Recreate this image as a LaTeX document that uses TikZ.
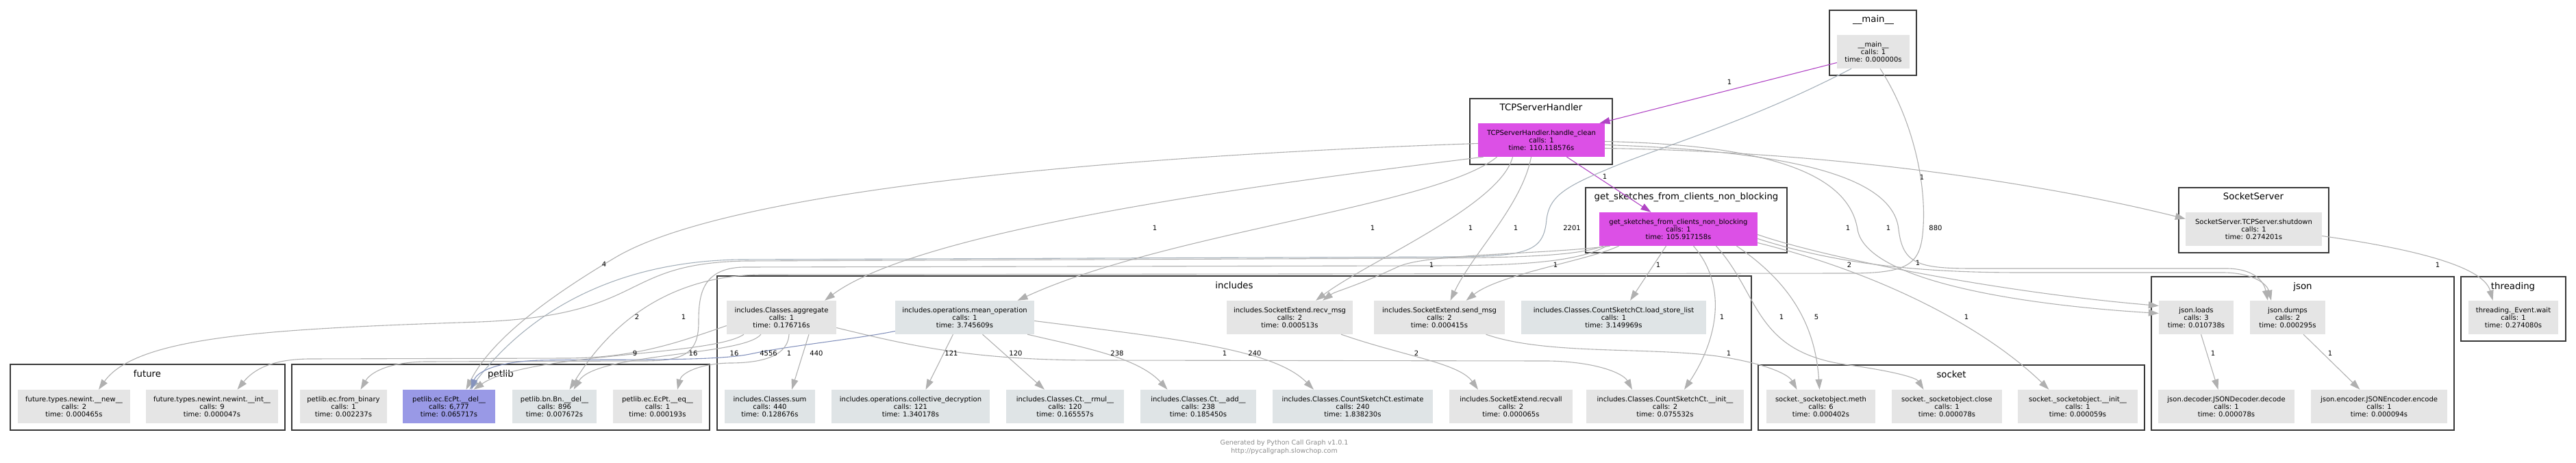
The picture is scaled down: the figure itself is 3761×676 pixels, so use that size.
\documentclass[tikz,border=0pt]{standalone}
\usepackage{fontspec}
\setmainfont{DejaVu Sans}
\usetikzlibrary{arrows.meta}

\definecolor{nodegray}{HTML}{E5E5E5}
\definecolor{nodeblue}{HTML}{DFE4E6}
\definecolor{nodehot}{HTML}{DC50E6}
\definecolor{nodedel}{HTML}{9999E6}
\definecolor{edgegray}{HTML}{B0B0B0}
\definecolor{edgehot}{HTML}{B044C4}
\definecolor{edgewarm}{HTML}{A5B0BA}
\definecolor{edgeblue}{HTML}{8593BD}
\definecolor{clusterline}{HTML}{383838}
\definecolor{footgray}{HTML}{8A8A8A}

\newcommand{\callinfo}[3]{#1\\calls: #2\\time: #3}

\begin{document}
\begin{tikzpicture}[x=1pt,y=-1pt,
  fn/.style={fill=nodegray, minimum height=49pt, inner sep=0pt, align=center,
    font=\fontsize{10}{11}\selectfont},
  cluster/.style={draw=clusterline, line width=2.4pt},
  cltitle/.style={anchor=base, font=\fontsize{13.3}{15}\selectfont},
  call/.style={draw=edgegray, line width=1.1pt, -{Triangle[length=15pt,width=10pt]}},
  hotcall/.style={call, draw=edgehot},
  elbl/.style={inner sep=0pt, font=\fontsize{10}{11}\selectfont},
]
\useasboundingbox (0,0) rectangle (3761,676);

% clusters
\draw[cluster] (2671,15) rectangle (2798,110);
\node[cltitle] (c-main) at (2735,33) {\_\_main\_\_};
\draw[cluster] (2146,144) rectangle (2354,240);
\node[cltitle] (c-tcp) at (2250,162) {TCPServerHandler};
\draw[cluster] (2315,274) rectangle (2609,369);
\node[cltitle] (c-get) at (2462,292) {get\_sketches\_from\_clients\_non\_blocking};
\draw[cluster] (3181,274) rectangle (3400,369);
\node[cltitle] (c-srv) at (3290,292) {SocketServer};
\draw[cluster] (3141,404) rectangle (3583,628);
\node[cltitle] (c-json) at (3362,422) {json};
\draw[cluster] (3593,404) rectangle (3746,498);
\node[cltitle] (c-thr) at (3669,422) {threading};
\draw[cluster] (2567,533) rectangle (3131,628);
\node[cltitle] (c-sock) at (2849,551) {socket};
\draw[cluster] (1047,403) rectangle (2557,628);
\node[cltitle] (c-inc) at (1802,421) {includes};
\draw[cluster] (426,532) rectangle (1036,628);
\node[cltitle] (c-pet) at (731,550) {petlib};
\draw[cluster] (15,532) rectangle (416,628);
\node[cltitle] (c-fut) at (215,550) {future};

% functions
\node[fn, minimum width=106pt] (M) at (2735,75.5) {\callinfo{\_\_main\_\_}{1}{0.000000s}};
\node[fn, fill=nodehot, minimum width=185pt] (T) at (2250.5,204.5) {\callinfo{TCPServerHandler.handle\_clean}{1}{110.118576s}};
\node[fn, fill=nodehot, minimum width=231pt] (G) at (2450.5,334.5) {\callinfo{get\_sketches\_from\_clients\_non\_blocking}{1}{105.917158s}};
\node[fn, minimum width=199pt] (S) at (3290.5,334.5) {\callinfo{SocketServer.TCPServer.shutdown}{1}{0.274201s}};
\node[fn, minimum width=131pt] (TH) at (3669.5,463.5) {\callinfo{threading.\_Event.wait}{1}{0.274080s}};
\node[fn, minimum width=109pt] (JL) at (3206.5,463.5) {\callinfo{json.loads}{3}{0.010738s}};
\node[fn, minimum width=110pt] (JD) at (3340,463.5) {\callinfo{json.dumps}{2}{0.000295s}};
\node[fn, minimum width=199pt] (JDec) at (3250.5,593.5) {\callinfo{json.decoder.JSONDecoder.decode}{1}{0.000078s}};
\node[fn, minimum width=199pt] (JEnc) at (3473.5,593.5) {\callinfo{json.encoder.JSONEncoder.encode}{1}{0.000094s}};
\node[fn, minimum width=159pt] (SK1) at (2658.5,593.5) {\callinfo{socket.\_socketobject.meth}{6}{0.000402s}};
\node[fn, minimum width=161pt] (SK2) at (2842.5,593.5) {\callinfo{socket.\_socketobject.close}{1}{0.000078s}};
\node[fn, minimum width=175pt] (SK3) at (3033.5,593.5) {\callinfo{socket.\_socketobject.\_\_init\_\_}{1}{0.000059s}};
\node[fn, minimum width=160pt] (Agg) at (1141,463.5) {\callinfo{includes.Classes.aggregate}{1}{0.176716s}};
\node[fn, fill=nodeblue, minimum width=203pt] (MO) at (1408.5,463.5) {\callinfo{includes.operations.mean\_operation}{1}{3.745609s}};
\node[fn, minimum width=184pt] (RM) at (1883,463.5) {\callinfo{includes.SocketExtend.recv\_msg}{2}{0.000513s}};
\node[fn, minimum width=191pt] (SM) at (2101.5,463.5) {\callinfo{includes.SocketExtend.send\_msg}{2}{0.000415s}};
\node[fn, fill=nodeblue, minimum width=270pt] (LSL) at (2356,463.5) {\callinfo{includes.Classes.CountSketchCt.load\_store\_list}{1}{3.149969s}};
\node[fn, fill=nodeblue, minimum width=132pt] (Sum) at (1124,593.5) {\callinfo{includes.Classes.sum}{440}{0.128676s}};
\node[fn, fill=nodeblue, minimum width=231pt] (CD) at (1329.5,593.5) {\callinfo{includes.operations.collective\_decryption}{121}{1.340178s}};
\node[fn, fill=nodeblue, minimum width=172pt] (RMUL) at (1555,593.5) {\callinfo{includes.Classes.Ct.\_\_rmul\_\_}{120}{0.165557s}};
\node[fn, fill=nodeblue, minimum width=169pt] (ADD) at (1749.5,593.5) {\callinfo{includes.Classes.Ct.\_\_add\_\_}{238}{0.185450s}};
\node[fn, fill=nodeblue, minimum width=234pt] (EST) at (1975,593.5) {\callinfo{includes.Classes.CountSketchCt.estimate}{240}{1.838230s}};
\node[fn, minimum width=180pt] (RVA) at (2206,593.5) {\callinfo{includes.SocketExtend.recvall}{2}{0.000065s}};
\node[fn, minimum width=230pt] (CSI) at (2431,593.5) {\callinfo{includes.Classes.CountSketchCt.\_\_init\_\_}{2}{0.075532s}};
\node[fn, minimum width=127pt] (FB) at (501.5,593.5) {\callinfo{petlib.ec.from\_binary}{1}{0.002237s}};
\node[fn, fill=nodedel, minimum width=135pt] (ED) at (655.5,593.5) {\callinfo{petlib.ec.EcPt.\_\_del\_\_}{6,777}{0.065717s}};
\node[fn, fill=nodeblue, minimum width=123pt] (BN) at (809.5,593.5) {\callinfo{petlib.bn.Bn.\_\_del\_\_}{896}{0.007672s}};
\node[fn, minimum width=130pt] (EQ) at (960,593.5) {\callinfo{petlib.ec.EcPt.\_\_eq\_\_}{1}{0.000193s}};
\node[fn, minimum width=164pt] (NEW) at (108,593.5) {\callinfo{future.types.newint.\_\_new\_\_}{2}{0.000465s}};
\node[fn, minimum width=193pt] (INT) at (309.5,593.5) {\callinfo{future.types.newint.newint.\_\_int\_\_}{9}{0.000047s}};

% calls
\draw[hotcall] ([yshift=-16pt]M.west) -- ([xshift=85pt]T.north);
\draw[hotcall] ([xshift=37pt]T.south) -- ([xshift=-40pt]G.north);
\draw[call, draw=edgewarm] ([xshift=-32pt]M.south) .. controls (2550,180) and (2420,215) .. (2340,250)
  .. controls (2280,275) and (2262,290) .. (2258,320) .. controls (2254,368) and (2230,374) .. (2120,375)
  -- (1080,379) .. controls (880,382) and (760,470) .. ([xshift=30pt]ED.north);
\draw[call] ([xshift=10pt]M.south) .. controls (2790,170) and (2812,260) .. (2808,330)
  .. controls (2805,385) and (2790,399) .. (2700,399) -- (1110,401) .. controls (960,403) and (880,490) .. ([xshift=22pt]BN.north);
\draw[call] ([yshift=-12pt]T.east) .. controls (2700,222) and (3000,272) .. ([yshift=15pt]S.west);
\draw[call] ([yshift=-2pt]T.east) .. controls (2600,212) and (2700,260) .. (2712,335)
  .. controls (2725,410) and (2950,445) .. ([yshift=6pt]JL.west);
\draw[call] ([yshift=-7pt]T.east) .. controls (2660,222) and (2765,270) .. (2772,335)
  .. controls (2778,385) and (2800,392) .. (2880,392) -- (3250,392) .. controls (3290,392) and (3305,410) .. ([xshift=-29pt]JD.north);
\draw[call] ([yshift=-8pt]G.east) .. controls (2650,372) and (2900,425) .. ([yshift=17pt]JL.west);
\draw[call] ([yshift=-14pt]G.east) .. controls (2680,385) and (2800,398) .. (2950,398)
  -- (3245,398) .. controls (3290,398) and (3310,415) .. ([xshift=-24pt]JD.north);
\draw[call] ([yshift=-10pt]S.east) .. controls (3500,360) and (3625,385) .. ([xshift=-30pt]TH.north);
\draw[call] ([xshift=7pt]JL.south) -- ([xshift=-12pt]JDec.north);
\draw[call] ([xshift=23pt]JD.south) -- ([xshift=-28pt]JEnc.north);
\draw[call] ([xshift=-87pt]G.south) .. controls (2320,380) and (2190,400) .. ([xshift=39pt]SM.north);
\draw[call] ([xshift=-15pt]T.south) .. controls (2222,300) and (2150,370) .. ([xshift=16pt]SM.north);
\draw[call] ([xshift=-42pt]T.south) .. controls (2190,300) and (2000,380) .. ([xshift=38pt]RM.north);
\draw[call] ([xshift=-100pt]G.south) .. controls (2250,372) and (2080,370) .. (2040,390)
  .. controls (1975,420) and (1950,425) .. ([xshift=48pt]RM.north);
\draw[call] ([xshift=-18pt]G.south) -- ([xshift=24pt]LSL.north);
\draw[call] ([xshift=-85pt]T.south) .. controls (1900,262) and (1350,330) .. ([xshift=63pt]Agg.north);
\draw[call] ([xshift=-65pt]T.south) .. controls (2100,300) and (1700,340) .. ([xshift=77pt]MO.north);
\draw[call] ([yshift=-5pt]T.west) .. controls (1700,225) and (1080,270) .. (900,375)
  .. controls (790,440) and (715,500) .. ([xshift=25pt]ED.north);
\draw[call] ([xshift=-110pt]G.south) .. controls (2300,375) and (2200,376) .. (2080,377) -- (1090,381)
  .. controls (900,384) and (950,460) .. (700,470) .. controls (400,480) and (200,490) .. ([xshift=36pt]NEW.north);
\draw[call] ([xshift=-105pt]G.south) .. controls (2300,385) and (2200,388) .. (2080,388) -- (1085,390)
  .. controls (1025,392) and (1020,430) .. (1020,470) .. controls (1020,515) and (1000,527) .. (940,527)
  -- (620,528) .. controls (565,529) and (540,545) .. ([xshift=25pt]FB.north);
\draw[call, draw=edgeblue] ([yshift=-20pt]MO.west) .. controls (1250,495) and (1150,505) .. (1095,517)
  .. controls (1040,528) and (900,524) .. (790,526) .. controls (720,528) and (695,545) .. ([xshift=33pt]ED.north);
\draw[call] ([xshift=-55pt]Agg.south) .. controls (1040,520) and (770,515) .. ([xshift=36pt]ED.north);
\draw[call] ([xshift=-30pt]Agg.south) .. controls (1085,520) and (870,515) .. ([xshift=28pt]BN.north);
\draw[call] ([yshift=-12pt]Agg.west) .. controls (990,500) and (930,522) .. (830,523) -- (450,524)
  .. controls (395,525) and (370,540) .. ([xshift=37pt]INT.north);
\draw[call] ([xshift=11pt]Agg.south) .. controls (1150,525) and (1100,530) .. (1065,530)
  .. controls (1020,531) and (995,545) .. ([xshift=29pt]EQ.north);
\draw[call] ([xshift=40pt]Agg.south) -- ([xshift=32pt]Sum.north);
\draw[call] ([yshift=-15pt]Agg.east) .. controls (1330,505) and (1420,526) .. (1600,526) -- (2260,527)
  .. controls (2330,528) and (2370,545) .. ([xshift=-48pt]CSI.north);
\draw[call] ([xshift=-17pt]MO.south) -- ([xshift=22pt]CD.north);
\draw[call] ([xshift=26pt]MO.south) -- ([xshift=-30pt]RMUL.north);
\draw[call] ([xshift=-10pt]MO.south east) .. controls (1570,505) and (1660,520) .. ([xshift=-45pt]ADD.north);
\draw[call] ([yshift=-5pt]MO.east) .. controls (1720,495) and (1860,510) .. ([xshift=-57pt]EST.north);
\draw[call] ([xshift=75pt]RM.south) .. controls (2050,520) and (2130,530) .. ([xshift=-48pt]RVA.north);
\draw[call] ([xshift=68pt]SM.south) .. controls (2260,520) and (2420,505) .. (2520,522)
  .. controls (2585,533) and (2612,548) .. ([xshift=-35pt]SK1.north);
\draw[call] ([xshift=85pt]G.south) .. controls (2610,410) and (2650,470) .. ([xshift=-2pt]SK1.north);
\draw[call] ([xshift=22pt]G.south) .. controls (2525,420) and (2505,500) .. ([xshift=28pt]CSI.north);
\draw[call] ([xshift=55pt]G.south) .. controls (2570,430) and (2560,515) .. (2700,533)
  .. controls (2770,543) and (2798,552) .. ([xshift=-34pt]SK2.north);
\draw[call] ([yshift=-20pt]G.east) .. controls (2750,400) and (2900,480) .. ([xshift=-42pt]SK3.north);

% call counts
\node[elbl] (l-mt) at (2525,120) {1};
\node[elbl] (l-tg) at (2343,258) {1};
\node[elbl] (l-med) at (2295,333) {2201};
\node[elbl] (l-mbn) at (2826,333) {880};
\node[elbl] (l-ts) at (2806,259) {1};
\node[elbl] (l-tjl) at (2698,333) {1};
\node[elbl] (l-tjd) at (2757,333) {1};
\node[elbl] (l-gjl) at (2700,387) {2};
\node[elbl] (l-gjd) at (2800,384) {1};
\node[elbl] (l-sth) at (3559,387) {1};
\node[elbl] (l-jl) at (3231,516) {1};
\node[elbl] (l-jd) at (3402,516) {1};
\node[elbl] (l-gsm) at (2271,387) {1};
\node[elbl] (l-tsm) at (2213,333) {1};
\node[elbl] (l-trm) at (2147,333) {1};
\node[elbl] (l-grm) at (2090,387) {1};
\node[elbl] (l-glsl) at (2421,387) {1};
\node[elbl] (l-tagg) at (1686,333) {1};
\node[elbl] (l-tmo) at (2004,333) {1};
\node[elbl] (l-ted) at (882,386) {4};
\node[elbl] (l-gnew) at (930,463) {2};
\node[elbl] (l-gfb) at (998,463) {1};
\node[elbl] (l-moed) at (1122,516) {4556};
\node[elbl] (l-aed) at (1012,516) {16};
\node[elbl] (l-abn) at (1072,516) {16};
\node[elbl] (l-aint) at (927,516) {9};
\node[elbl] (l-aeq) at (1152,516) {1};
\node[elbl] (l-asum) at (1192,516) {440};
\node[elbl] (l-acsi) at (1788,516) {1};
\node[elbl] (l-mocd) at (1389,516) {121};
\node[elbl] (l-mormul) at (1483,516) {120};
\node[elbl] (l-moadd) at (1631,516) {238};
\node[elbl] (l-moest) at (1832,516) {240};
\node[elbl] (l-rmrva) at (2068,516) {2};
\node[elbl] (l-smsk) at (2524,516) {1};
\node[elbl] (l-gsk1) at (2652,463) {5};
\node[elbl] (l-gcsi) at (2514,463) {1};
\node[elbl] (l-gsk2) at (2601,463) {1};
\node[elbl] (l-gsk3) at (2871,463) {1};

% footer
\node[align=center, text=footgray, font=\fontsize{9.5}{12}\selectfont] (foot) at (1875,653)
  {Generated by Python Call Graph v1.0.1\\http://pycallgraph.slowchop.com};
\end{tikzpicture}
\end{document}
